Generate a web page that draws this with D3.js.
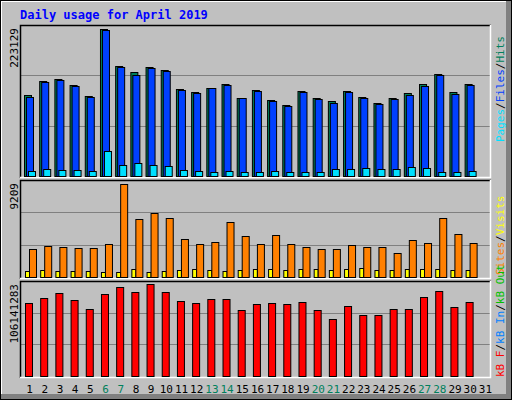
<!DOCTYPE html>
<html><head><meta charset="utf-8">
<script src="https://d3js.org/d3.v7.min.js"></script>
<style>body{margin:0;background:#fff}svg{display:block}text{font-family:"DejaVu Sans Mono",monospace}</style>
</head><body><svg id="c" width="512" height="400"></svg>
<script>
const days = d3.range(1, 32);
const weekend = [6, 7, 13, 14, 20, 21, 27, 28];
const hits = [122500,144200,147200,138100,121000,223129,167000,157900,165500,160900,132100,127500,133600,139700,118400,130500,115400,107800,129000,118400,113900,129000,119900,110800,118400,126000,139700,154800,127500,139700];
const files = [119500,143000,146000,137000,120000,221500,165500,154000,163500,159500,131000,126000,133000,138500,118000,129500,114500,107000,128000,117000,110500,128000,119000,110000,116500,123000,137000,153500,124500,137500];
const pages = [7600,10600,9100,9100,7600,37900,16700,19700,16700,15200,9100,7600,6100,7600,6100,6100,7600,6100,6100,6100,10600,10600,12100,10600,10600,13700,12100,6100,6100,7600];
const sites = [2800,3100,3000,2900,2900,3300,9209,5700,6300,5800,3800,3300,3500,5400,4100,3300,4200,3300,3000,2800,2800,3200,3000,3000,2400,3700,3400,5800,4300,3400];
const visits = [600,700,600,600,600,500,500,800,500,600,700,800,700,600,700,800,800,700,800,800,700,800,900,700,700,800,800,800,700,700];
const kbytes = [84.0e6,89.8e6,95.6e6,87.5e6,77.0e6,94.5e6,102.6e6,96.8e6,106141283,96.8e6,86.3e6,84.0e6,88.6e6,88.6e6,75.8e6,82.8e6,84.0e6,82.8e6,85.1e6,75.8e6,65.3e6,80.5e6,70.0e6,70.0e6,77.0e6,77.0e6,91.0e6,98.0e6,79.3e6,85.1e6];
const maxLabels = ["223129", "9209", "106141283"];

const svg = d3.select("#c");
// frame
svg.append("rect").attr("x",0).attr("y",0).attr("width",512).attr("height",400).attr("fill","#000");
svg.append("rect").attr("x",1).attr("y",1).attr("width",510).attr("height",398).attr("fill","#808080");
svg.append("rect").attr("x",1).attr("y",1).attr("width",505).attr("height",393).attr("fill","#fff");
svg.append("rect").attr("x",2).attr("y",2).attr("width",504).attr("height",392).attr("fill","#c0c0c0");
svg.append("text").attr("x",20).attr("y",19).attr("fill","#0000ff").attr("font-weight","bold").attr("font-size",12).text("Daily usage for April 2019");

const x = d3.scaleBand().domain(days).range([20, 491]).padding(0);
const panels = [
  {y0:25, y1:178, top:29, max:223129},
  {y0:180, y1:279, top:184, max:9209},
  {y0:281, y1:378, top:284, max:106141283}
];
const scales = panels.map(p => d3.scaleLinear().domain([0, p.max]).range([p.y1-2, p.top]));
panels.forEach((p,i) => {
  const g = svg.append("g");
  g.append("rect").attr("x",20).attr("y",p.y0).attr("width",471).attr("height",p.y1-p.y0).attr("fill","#c0c0c0");
  const h = p.y1 - 2 - p.y0;
  [1/3, 2/3].forEach(f => g.append("line").attr("x1",21).attr("x2",490)
     .attr("y1",Math.round(p.y1-2-h*f)+0.5).attr("y2",Math.round(p.y1-2-h*f)+0.5).attr("stroke","#808080"));
  g.append("path").attr("d",`M20.5,${p.y1}V${p.y0+0.5}H491`).attr("fill","none").attr("stroke","#000").attr("stroke-width",1.5);
  g.append("path").attr("d",`M20,${p.y1-0.5}H490.5V${p.y0}`).attr("fill","none").attr("stroke","#fff").attr("stroke-width",1.5);
  svg.append("text").attr("transform",`translate(18,${p.y0+3}) rotate(-90)`).attr("text-anchor","end")
     .attr("font-size",11).attr("fill","#000").text(maxLabels[i]);
});

function bars(data, sc, off, w, color) {
  svg.append("g").selectAll("rect").data(data).join("rect")
    .attr("x",(d,i)=>x(i+1)+off+0.5).attr("width",w)
    .attr("y",d=>Math.round(sc(d))+0.5).attr("height",d=>sc(0)-Math.round(sc(d)))
    .attr("fill",color).attr("stroke","#000").attr("stroke-width",1);
}
bars(hits, scales[0], 4, 7, "#00805c");
bars(files, scales[0], 6, 7, "#0040ff");
bars(pages, scales[0], 8, 7, "#00e0ff");
bars(visits, scales[1], 5, 4, "#ffff00");
bars(sites, scales[1], 9, 7, "#ff8000");
bars(kbytes, scales[2], 5, 7, "#ff0000");

svg.append("g").selectAll("text").data(days).join("text")
  .attr("x",d=>x(d)+x.bandwidth()/2+2).attr("y",393).attr("text-anchor","middle").attr("font-size",11)
  .attr("fill",d=>weekend.includes(d)?"#00805c":"#000").text(d=>d);

function sideLabel(parts, ybottom) {
  const t = svg.append("text").attr("transform",`translate(504,${ybottom}) rotate(-90)`).attr("font-size",11);
  parts.forEach(([s,c]) => t.append("tspan").attr("fill",c).text(s));
}
sideLabel([["Pages","#00e0ff"],["/","#000"],["Files","#0040ff"],["/","#000"],["Hits","#00805c"]], 142);
sideLabel([["Sites","#ff8000"],["/","#000"],["Visits","#ffff00"]], 275);
sideLabel([["kB F","#ff0000"],["/","#000"],["kB In","#0080ff"],["/","#000"],["kB Out","#00c000"]], 377);
</script></body></html>
